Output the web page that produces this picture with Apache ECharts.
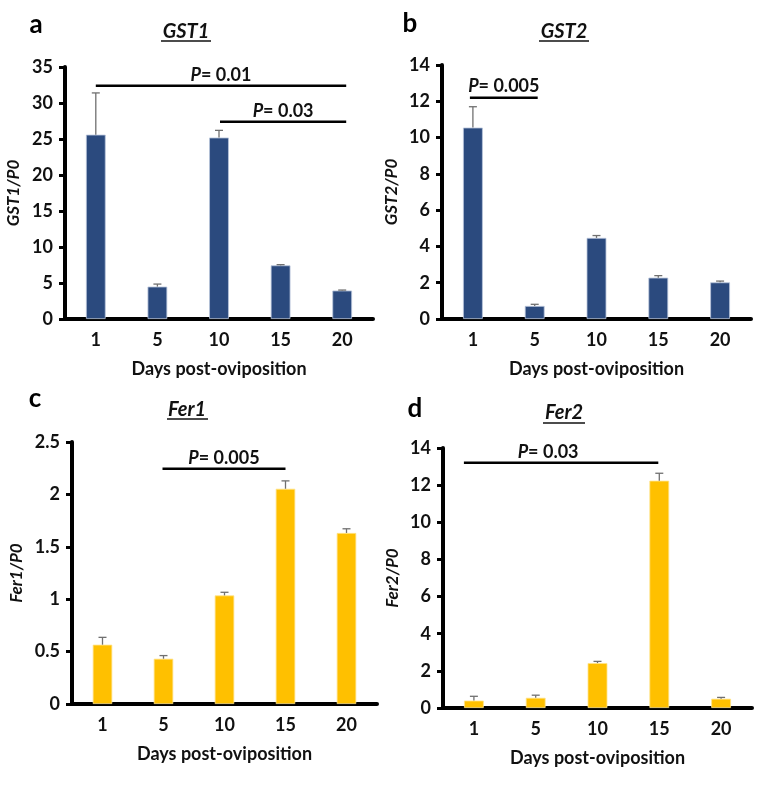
<!DOCTYPE html>
<html>
<head>
<meta charset="utf-8">
<script src="https://cdn.jsdelivr.net/npm/echarts@6/dist/echarts.min.js"></script>
<style>
html,body{margin:0;padding:0;background:#fff;}
#c{width:759px;height:789px;}
</style>
</head>
<body>
<div id="c"></div>
<script>
// ---- data ----
const days = ['1', '5', '10', '15', '20'];
const gst1 = [25.6, 4.5, 25.2, 7.45, 3.95];
const gst1Err = [5.8, 0.35, 1.0, 0.1, 0.07];
const gst2 = [10.55, 0.72, 4.47, 2.28, 2.02];
const gst2Err = [1.15, 0.09, 0.13, 0.11, 0.07];
const fer1 = [0.566, 0.432, 1.036, 2.054, 1.632];
const fer1Err = [0.07, 0.03, 0.03, 0.075, 0.04];
const fer2 = [0.4, 0.55, 2.42, 12.24, 0.5];
const fer2Err = [0.23, 0.14, 0.09, 0.4, 0.07];
// significance bars: [fromCategoryIndex, toCategoryIndex, yValue]
const sigA = [[0, 4, 32.4], [2, 4, 27.4]];
const sigALabels = ['0.01', '0.03'];
const sigB = [[0, 1, 12.2]];
const sigBLabels = ['0.005'];
const sigC = [[1, 3, 2.245]];
const sigCLabels = ['0.005'];
const sigD = [[0, 3, 13.2]];
const sigDLabels = ['0.03'];
const yTicksA = {max: 35, interval: 5};
const yTicksB = {max: 14, interval: 2};
const yTicksC = {max: 2.5, interval: 0.5};
const yTicksD = {max: 14, interval: 2};

// ---- styling ----
const FONT = 'Lato, "Open Sans", sans-serif';
const BLUE = '#2B4A7E';
const YELLOW = '#FFC000';
const panels = [
  {grid: {left: 65, top: 67, width: 308, height: 252}, data: gst1, err: gst1Err, sig: sigA, sigLab: sigALabels,
   y: yTicksA, yName: 'GST1/P0', yGap: 43, color: BLUE, border: '#B8C4DA', pads: [[0, 4, 0], [1, 4, 0]]},
  {grid: {left: 442, top: 65, width: 309, height: 254}, data: gst2, err: gst2Err, sig: sigB, sigLab: sigBLabels,
   y: yTicksB, yName: 'GST2/P0', yGap: 42, color: BLUE, border: '#B8C4DA', pads: [[-3, 3, 0]]},
  {grid: {left: 72, top: 442, width: 305, height: 262}, data: fer1, err: fer1Err, sig: sigC, sigLab: sigCLabels,
   y: yTicksC, yName: 'Fer1/P0', yGap: 47, color: YELLOW, border: '#FFE38A', pads: [[-1, 0, 0]]},
  {grid: {left: 443, top: 448, width: 309, height: 260}, data: fer2, err: fer2Err, sig: sigD, sigLab: sigDLabels,
   y: yTicksD, yName: 'Fer2/P0', yGap: 42, color: YELLOW, border: '#FFE38A', pads: [[-10, -1, -13]]}
];

const grids = [], xAxes = [], yAxes = [], series = [];
panels.forEach((p, i) => {
  grids.push(p.grid);
  xAxes.push({
    type: 'category', gridIndex: i, data: days,
    name: 'Days post-oviposition', nameLocation: 'middle', nameGap: 41,
    nameTextStyle: {fontFamily: FONT, fontWeight: 'bold', fontSize: 18, color: '#111'},
    axisLine: {lineStyle: {color: '#000', width: 4}},
    axisTick: {show: false},
    axisLabel: {margin: 12, fontFamily: FONT, fontWeight: 'bold', fontSize: 18, color: '#111'}
  });
  yAxes.push({
    type: 'value', gridIndex: i, min: 0, max: p.y.max, interval: p.y.interval,
    name: p.yName, nameLocation: 'middle', nameGap: p.yGap,
    nameTextStyle: {fontFamily: FONT, fontWeight: 'bold', fontStyle: 'italic', fontSize: 17, color: '#111'},
    axisLine: {show: true, lineStyle: {color: '#000', width: 4}},
    axisTick: {show: true, length: 6, lineStyle: {color: '#000', width: 3}},
    axisLabel: {margin: 12, fontFamily: FONT, fontWeight: 'bold', fontSize: 18, color: '#111'},
    splitLine: {show: false}
  });
  series.push({
    type: 'bar', xAxisIndex: i, yAxisIndex: i, data: p.data, barWidth: '32%',
    itemStyle: {color: p.color, borderColor: p.border, borderWidth: 0.8},
    silent: true, z: 2
  });
  series.push({
    type: 'custom', xAxisIndex: i, yAxisIndex: i, silent: true, z: 3,
    data: p.data.map((v, k) => [k, v, p.err[k]]),
    renderItem: (params, api) => {
      const x = api.value(0), v = api.value(1), e = api.value(2);
      const a = api.coord([x, v]);
      const b = api.coord([x, v + e]);
      const st = {stroke: '#707070', lineWidth: 1.3};
      return {type: 'group', children: [
        {type: 'line', shape: {x1: a[0], y1: a[1], x2: b[0], y2: b[1]}, style: st},
        {type: 'line', shape: {x1: b[0] - 4, y1: b[1], x2: b[0] + 4, y2: b[1]}, style: st}
      ]};
    }
  });
  series.push({
    type: 'custom', xAxisIndex: i, yAxisIndex: i, silent: true, z: 4,
    data: p.sig.map((s, k) => [s[0], s[1], s[2], k]),
    renderItem: (params, api) => {
      const k = api.value(3);
      const pad = p.pads[k];
      const a = api.coord([api.value(0), api.value(2)]);
      const b = api.coord([api.value(1), api.value(2)]);
      const x1 = a[0] + pad[0], x2 = b[0] + pad[1];
      return {type: 'group', children: [
        {type: 'line', shape: {x1: x1, y1: a[1], x2: x2, y2: a[1]}, style: {stroke: '#000', lineWidth: 2.5}},
        {type: 'text', x: (x1 + x2) / 2 + pad[2], y: a[1] - 2, style: {
          text: '{i|P}{n|= ' + p.sigLab[k] + '}',
          align: 'center', verticalAlign: 'bottom',
          rich: {
            i: {fontFamily: FONT, fontWeight: 'bold', fontStyle: 'italic', fontSize: 18, fill: '#111'},
            n: {fontFamily: FONT, fontWeight: 'bold', fontSize: 18, fill: '#111'}
          }
        }}
      ]};
    }
  });
});

const titles = [
  {t: 'GST1', x: 186, y: 32, u: [161, 211, 41]},
  {t: 'GST2', x: 564, y: 32, u: [539, 589, 41]},
  {t: 'Fer1', x: 187, y: 410, u: [167, 208, 419]},
  {t: 'Fer2', x: 564, y: 413, u: [543, 585, 423]}
];
const letters = [
  {t: 'a', x: 36, y: 25}, {t: 'b', x: 410, y: 24}, {t: 'c', x: 35, y: 399}, {t: 'd', x: 415, y: 409}
];
const graphics = [];
titles.forEach(o => {
  graphics.push({type: 'text', x: o.x, y: o.y, style: {text: o.t, align: 'center', verticalAlign: 'middle',
    font: 'italic bold 20px ' + FONT, fill: '#111'}});
  graphics.push({type: 'line', shape: {x1: o.u[0], y1: o.u[2], x2: o.u[1], y2: o.u[2]}, style: {stroke: '#111', lineWidth: 1.4}});
});
letters.forEach(o => {
  graphics.push({type: 'text', x: o.x, y: o.y, style: {text: o.t, align: 'center', verticalAlign: 'middle',
    font: 'bold 26px ' + FONT, fill: '#000'}});
});

const chart = echarts.init(document.getElementById('c'), null, {renderer: 'canvas'});
chart.setOption({
  animation: false,
  backgroundColor: '#fff',
  grid: grids, xAxis: xAxes, yAxis: yAxes, series: series,
  graphic: graphics
});
</script>
</body>
</html>
